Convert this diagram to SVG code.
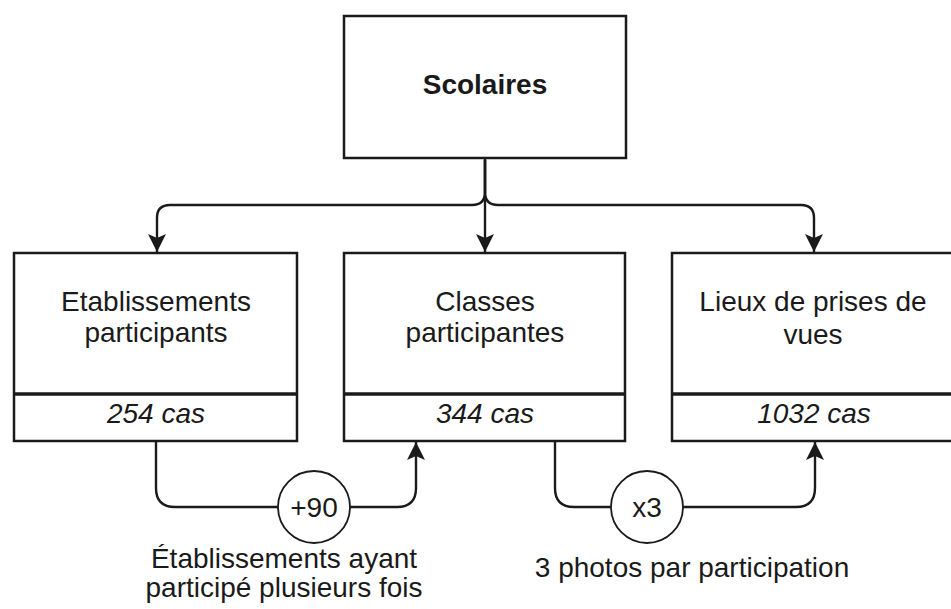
<svg xmlns="http://www.w3.org/2000/svg" width="951" height="609" viewBox="0 0 951 609">
<style>
  text { font-family: "Liberation Sans", Arial, sans-serif; font-size: 28px; fill: #1a1a1a; text-anchor: middle; }
  .bold { font-weight: bold; }
  .it { font-style: italic; }
  .box { fill: #ffffff; stroke: #1a1a1a; stroke-width: 2.5; }
  .div { stroke: #1a1a1a; stroke-width: 3.5; }
  .edge { fill: none; stroke: #1a1a1a; stroke-width: 2.4; }
  .circ { fill: #ffffff; stroke: #1a1a1a; stroke-width: 1.8; }
</style>
<defs>
  <marker id="arr" viewBox="0 0 18 18" refX="18" refY="9" markerWidth="18" markerHeight="18" orient="auto" markerUnits="userSpaceOnUse">
    <path d="M0,0 L18,9 L0,18 L4,9 Z" fill="#1a1a1a"/>
  </marker>
</defs>
<rect width="951" height="609" fill="#ffffff"/>

<g id="connectors">
  <path class="edge" d="M485,158 V252" marker-end="url(#arr)"/>
  <path class="edge" d="M485,160 V192 Q485,205 472,205 H170 Q157,205 157,218 V252" marker-end="url(#arr)"/>
  <path class="edge" d="M485,160 V192 Q485,205 498,205 H801 Q814,205 814,218 V252" marker-end="url(#arr)"/>
  <path class="edge" d="M156,441 V488 Q156,507 175,507 H397 Q416,507 416,488 V442" marker-end="url(#arr)"/>
  <path class="edge" d="M555,441 V488 Q555,507 574,507 H796 Q815,507 815,488 V442" marker-end="url(#arr)"/>
</g>

<g id="scolaires">
  <rect class="box" x="344" y="16" width="282" height="142"/>
  <text class="bold" x="485" y="94">Scolaires</text>
</g>

<g id="etablissements">
  <rect class="box" x="14" y="253" width="283" height="188"/>
  <line class="div" x1="14" y1="394" x2="297" y2="394"/>
  <text x="156" y="311">Etablissements</text>
  <text x="156" y="342">participants</text>
  <text class="it" x="156" y="423">254 cas</text>
</g>

<g id="classes">
  <rect class="box" x="344" y="253" width="281" height="188"/>
  <line class="div" x1="344" y1="394" x2="625" y2="394"/>
  <text x="485" y="311">Classes</text>
  <text x="485" y="342">participantes</text>
  <text class="it" x="485" y="423">344 cas</text>
</g>

<g id="lieux">
  <rect class="box" x="672" y="253" width="283" height="188"/>
  <line class="div" x1="672" y1="394" x2="955" y2="394"/>
  <text x="813" y="311">Lieux de prises de</text>
  <text x="813" y="344">vues</text>
  <text class="it" x="814" y="423">1032 cas</text>
</g>

<g id="plus90">
  <circle class="circ" cx="314" cy="507" r="36"/>
  <text x="314" y="517">+90</text>
</g>

<g id="x3">
  <circle class="circ" cx="647" cy="507" r="36"/>
  <text x="647" y="517">x3</text>
</g>

<g id="label-left">
  <text x="284" y="568">Établissements ayant</text>
  <text x="284" y="597">participé plusieurs fois</text>
</g>

<g id="label-right">
  <text x="692" y="577">3 photos par participation</text>
</g>
</svg>
